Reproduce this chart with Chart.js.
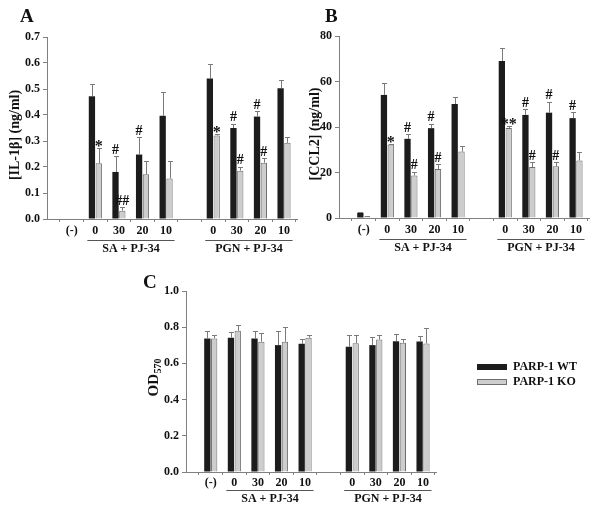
<!DOCTYPE html>
<html>
<head>
<meta charset="utf-8">
<script src="https://cdn.jsdelivr.net/npm/chart.js@4.4.1/dist/chart.umd.min.js"></script>
<style>
  html, body { margin: 0; padding: 0; background: #ffffff; }
  body { width: 602px; height: 510px; position: relative; overflow: hidden; }
  .panel { position: absolute; }
</style>
</head>
<body>
<div class="panel" style="left:0px;top:0px;width:300px;height:260px;"><canvas id="chartA"></canvas></div>
<div class="panel" style="left:300px;top:0px;width:302px;height:260px;"><canvas id="chartB"></canvas></div>
<div class="panel" style="left:130px;top:260px;width:472px;height:250px;"><canvas id="chartC"></canvas></div>
<script>
// ---- categories / groups / series ----
const categories = ['(-)', '0', '30', '20', '10', '', '0', '30', '20', '10'];
const groupNames = ['SA + PJ-34', 'PGN + PJ-34'];
const groupFirst = [1, 6];
const groupLast = [4, 9];
const seriesNames = ['PARP-1 WT', 'PARP-1 KO'];

// ---- Panel A: [IL-1β] (ng/ml) ----
const ticksA = [0.0, 0.1, 0.2, 0.3, 0.4, 0.5, 0.6, 0.7];
const il1bWT   = [0, 0.472, 0.181, 0.248, 0.397, null, 0.540, 0.350, 0.394, 0.503];
const il1bWTsd = [0, 0.047, 0.060, 0.066, 0.093, null, 0.055, 0.017, 0.021, 0.030];
const il1bKO   = [0, 0.214, 0.032, 0.172, 0.156, null, 0.321, 0.186, 0.216, 0.293];
const il1bKOsd = [0, 0.058, 0.013, 0.053, 0.067, null, 0.005, 0.015, 0.017, 0.023];
const il1bWTmarks = ['', '', '#', '#', '', '', '', '#', '#', ''];
const il1bKOmarks = ['', '*', '##', '', '', '', '*', '#', '#', ''];

// ---- Panel B: [CCL2] (ng/ml) ----
const ticksB = [0, 20, 40, 60, 80];
const ccl2WT   = [2.3, 54.1, 34.8, 39.5, 50.1, null, 69.0, 45.3, 46.3, 43.9];
const ccl2WTsd = [0.3, 5.4, 2.0, 2.0, 3.3, null, 5.6, 2.5, 4.7, 2.6];
const ccl2KO   = [0.7, 32.3, 18.7, 21.5, 29.2, null, 39.6, 22.4, 22.7, 25.3];
const ccl2KOsd = [0.2, 0.4, 1.6, 2.2, 2.5, null, 0.9, 2.2, 1.7, 3.5];
const ccl2WTmarks = ['', '', '#', '#', '', '', '', '#', '#', '#'];
const ccl2KOmarks = ['', '*', '#', '#', '', '', '**', '#', '#', ''];

// ---- Panel C: OD570 ----
const ticksC = [0.0, 0.2, 0.4, 0.6, 0.8, 1.0];
const odWT   = [0.738, 0.742, 0.738, 0.701, 0.708, null, 0.692, 0.701, 0.723, 0.721];
const odWTsd = [0.042, 0.029, 0.042, 0.078, 0.028, null, 0.064, 0.043, 0.039, 0.028];
const odKO   = [0.738, 0.780, 0.720, 0.720, 0.742, null, 0.712, 0.732, 0.714, 0.710];
const odKOsd = [0.020, 0.032, 0.049, 0.079, 0.013, null, 0.046, 0.024, 0.022, 0.083];
const odMarks = ['', '', '', '', '', '', '', '', '', ''];

// ---- styling ----
const FONT = '"Liberation Serif", "Times New Roman", serif';
const INK = '#111111';
const AXIS = '#808080';
const WT_COLOR = '#1c1c1c';
const KO_FILL = '#cdcdcd';
const KO_EDGE = '#6e6e6e';
const ERR_COLOR = '#7a7a7a';

const toPoints = vals => vals.map((v, i) => (v === null ? null : { x: i, y: v })).filter(p => p !== null);

function drawErrorsAndMarks(chart) {
  const ctx = chart.ctx, ys = chart.scales.y;
  chart.data.datasets.forEach((ds, di) => {
    const meta = chart.getDatasetMeta(di);
    meta.data.forEach((el, j) => {
      const raw = ds.data[j];
      const idx = raw.x;
      const sd = ds.errors[idx];
      const top = ys.getPixelForValue(raw.y + sd);
      const x = Math.round(el.x) + 0.5;
      ctx.save();
      if (sd > 0) {
        ctx.strokeStyle = ERR_COLOR;
        ctx.lineWidth = 1;
        const yt = Math.round(top) + 0.5;
        ctx.beginPath();
        ctx.moveTo(x, el.y);
        ctx.lineTo(x, yt);
        ctx.moveTo(x - 2.5, yt);
        ctx.lineTo(x + 2.5, yt);
        ctx.stroke();
      }
      const mark = ds.marks[idx];
      if (mark) {
        ctx.fillStyle = INK;
        ctx.textAlign = 'center';
        ctx.textBaseline = 'alphabetic';
        if (mark.indexOf('*') >= 0) {
          ctx.font = 'bold 16px ' + FONT;
          ctx.fillText(mark, el.x, top + 3);
        } else {
          ctx.font = 'bold 14px ' + FONT;
          ctx.fillText(mark, el.x, top - 2.5);
        }
      }
      ctx.restore();
    });
  });
}

function makeDecor(cfg) {
  return {
    id: 'decor' + cfg.letter,
    afterDatasetsDraw(chart) { drawErrorsAndMarks(chart); },
    afterDraw(chart) {
      const ctx = chart.ctx, xs = chart.scales.x, area = chart.chartArea;
      ctx.save();
      // panel letter
      ctx.fillStyle = INK;
      ctx.font = 'bold 19px ' + FONT;
      ctx.textAlign = 'left';
      ctx.textBaseline = 'alphabetic';
      ctx.fillText(cfg.letter, cfg.letterX, cfg.letterY);
      // group brackets
      const s = xs.getPixelForValue(1) - xs.getPixelForValue(0);
      groupNames.forEach((name, k) => {
        const x0 = xs.getPixelForValue(groupFirst[k]) - 0.34 * s;
        const x1 = xs.getPixelForValue(groupLast[k]) + 0.36 * s;
        const yl = Math.round(area.bottom + cfg.lineDy) + 0.5;
        ctx.strokeStyle = '#555555';
        ctx.lineWidth = 1;
        ctx.beginPath();
        ctx.moveTo(x0, yl);
        ctx.lineTo(x1, yl);
        ctx.stroke();
        ctx.fillStyle = INK;
        ctx.font = 'bold 12px ' + FONT;
        ctx.textAlign = 'center';
        ctx.textBaseline = 'middle';
        ctx.fillText(name, (x0 + x1) / 2, area.bottom + cfg.textDy);
      });
      // subscript of axis title
      if (cfg.sub) {
        const ys = chart.scales.y;
        const tf = 'bold 15px ' + FONT;
        ctx.font = tf;
        const wAll = ctx.measureText(cfg.ytitle).width;
        const wMain = ctx.measureText(cfg.ytitle.trim()).width;
        const cx = ys.left + cfg.titlePad + 15 * 1.2 / 2;
        const cy = (area.top + area.bottom) / 2;
        const yStart = cy + wAll / 2 - wMain;
        ctx.translate(cx + 4, yStart);
        ctx.rotate(-Math.PI / 2);
        ctx.font = 'bold 10px ' + FONT;
        ctx.textAlign = 'left';
        ctx.textBaseline = 'middle';
        ctx.fillText(cfg.sub, 0.5, 0);
        ctx.setTransform(1, 0, 0, 1, 0, 0);
      }
      // legend
      if (cfg.legend) {
        chart.data.datasets.forEach((ds, k) => {
          const lx = area.right + cfg.legendDx;
          const cy = area.top + cfg.legendDy[k];
          ctx.fillStyle = ds.backgroundColor;
          ctx.fillRect(lx, cy - 3, 30, 6);
          if (ds.borderWidth) {
            ctx.strokeStyle = ds.borderColor;
            ctx.lineWidth = 1;
            ctx.strokeRect(lx + 0.5, cy - 2.5, 29, 5);
          }
          ctx.fillStyle = INK;
          ctx.font = 'bold 12px ' + FONT;
          ctx.textAlign = 'left';
          ctx.textBaseline = 'middle';
          ctx.fillText(ds.label, lx + 36, cy);
        });
      }
      ctx.restore();
    }
  };
}

function makeChart(canvasId, cfg) {
  return new Chart(document.getElementById(canvasId), {
    type: 'bar',
    data: {
      datasets: [
        { label: seriesNames[0], data: toPoints(cfg.wt), errors: cfg.wtSd, marks: cfg.wtMarks,
          backgroundColor: WT_COLOR, borderColor: WT_COLOR, borderWidth: 0,
          categoryPercentage: 0.58, barPercentage: 0.92 },
        { label: seriesNames[1], data: toPoints(cfg.ko), errors: cfg.koSd, marks: cfg.koMarks,
          backgroundColor: KO_FILL, borderColor: KO_EDGE, borderWidth: 1,
          categoryPercentage: 0.58, barPercentage: 0.92 }
      ]
    },
    options: {
      responsive: true,
      maintainAspectRatio: false,
      animation: false,
      devicePixelRatio: 1,
      layout: { padding: cfg.pad },
      plugins: { legend: { display: false }, tooltip: { enabled: false }, title: { display: false } },
      scales: {
        x: {
          type: 'linear',
          min: -1.05,
          max: 9.55,
          offset: false,
          afterBuildTicks: sc => { sc.ticks = categories.map((c, i) => ({ value: i })); },
          afterFit: sc => { sc.height = cfg.xh; },
          ticks: {
            autoSkip: false, maxRotation: 0, minRotation: 0, padding: cfg.xpad,
            color: INK, font: { family: FONT, weight: 'bold', size: 12 },
            callback: v => (categories[v] !== undefined ? categories[v] : '')
          },
          grid: { drawOnChartArea: false, drawTicks: true, tickLength: 3, color: AXIS },
          border: { color: AXIS, width: 1 }
        },
        y: {
          min: cfg.ticks[0],
          max: cfg.ticks[cfg.ticks.length - 1],
          afterBuildTicks: sc => { sc.ticks = cfg.ticks.map(v => ({ value: v })); },
          afterFit: sc => { sc.width = cfg.yw; },
          ticks: {
            padding: 3, color: INK, font: { family: FONT, weight: 'bold', size: 12 },
            callback: v => v.toFixed(cfg.decimals)
          },
          grid: { drawOnChartArea: false, drawTicks: true, tickLength: 4, color: AXIS },
          border: { color: AXIS, width: 1 },
          title: {
            display: true, text: cfg.ytitle, color: INK,
            padding: { top: cfg.titlePad, bottom: 0 },
            font: { family: FONT, weight: 'bold', size: cfg.titleSize }
          }
        }
      }
    },
    plugins: [makeDecor(cfg)]
  });
}

makeChart('chartA', {
  letter: 'A', letterX: 20, letterY: 22,
  wt: il1bWT, wtSd: il1bWTsd, ko: il1bKO, koSd: il1bKOsd, wtMarks: il1bWTmarks, koMarks: il1bKOmarks,
  ticks: ticksA, decimals: 1,
  ytitle: '[IL-1β] (ng/ml)    ', titleSize: 14, titlePad: 6.6,
  pad: { top: 37, right: 3, bottom: 0, left: 0 }, yw: 47, xh: 41, xpad: 2,
  lineDy: 21, textDy: 30
});

makeChart('chartB', {
  letter: 'B', letterX: 25, letterY: 22,
  wt: ccl2WT, wtSd: ccl2WTsd, ko: ccl2KO, koSd: ccl2KOsd, wtMarks: ccl2WTmarks, koMarks: ccl2KOmarks,
  ticks: ticksB, decimals: 0,
  ytitle: '[CCL2] (ng/ml)    ', titleSize: 14, titlePad: 6.6,
  pad: { top: 36, right: 13, bottom: 0, left: 0 }, yw: 39, xh: 42, xpad: 2,
  lineDy: 21, textDy: 30
});

makeChart('chartC', {
  letter: 'C', letterX: 13, letterY: 28,
  wt: odWT, wtSd: odWTsd, ko: odKO, koSd: odKOsd, wtMarks: odMarks, koMarks: odMarks,
  ticks: ticksC, decimals: 1,
  ytitle: 'OD  ', sub: '570', titleSize: 15, titlePad: 15,
  pad: { top: 31, right: 166, bottom: 0, left: 0 }, yw: 56, xh: 38, xpad: 1,
  lineDy: 18, textDy: 27,
  legend: true, legendDx: 41, legendDy: [76, 91]
});
</script>
</body>
</html>
